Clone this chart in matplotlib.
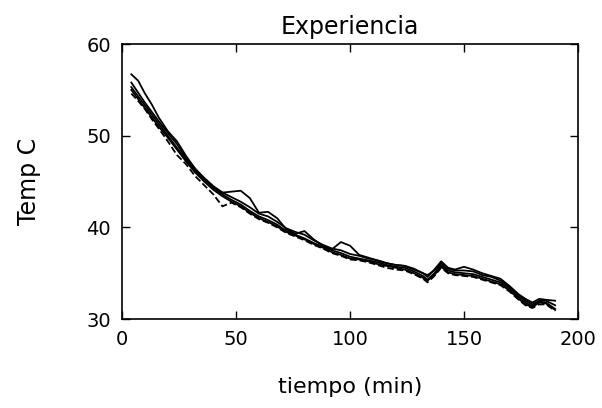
import numpy as np
import matplotlib.pyplot as plt

# tiempo (min) and temperature readings of the overlaid runs
t = [4, 7, 10, 13, 16, 20, 24, 28, 32, 36, 40, 44, 48, 52, 56, 60, 64, 68, 72, 76,
     80, 84, 88, 92, 96, 100, 104, 108, 112, 116, 120, 124, 128, 132, 134, 137, 140,
     143, 146, 150, 154, 158, 162, 166, 170, 174, 177, 180, 183, 186, 190]

run_a = [55.3, 54.3, 53.3, 52.3, 51.3, 50.0, 48.7, 47.4, 46.2, 45.2, 44.3, 43.6, 43.0,
         42.5, 41.8, 41.2, 40.8, 40.3, 39.6, 39.2, 38.8, 38.3, 37.9, 37.5, 37.2, 36.8,
         36.6, 36.4, 36.2, 35.9, 35.7, 35.6, 35.2, 34.7, 34.3, 35.0, 35.9, 35.3, 35.1,
         35.0, 34.9, 34.6, 34.3, 34.0, 33.3, 32.4, 31.8, 31.4, 31.9, 31.8, 31.1]

run_b = [56.7, 56.0, 54.6, 53.4, 52.0, 50.5, 49.4, 47.8, 46.4, 45.3, 44.4, 43.8, 43.9,
         44.0, 43.2, 41.6, 41.7, 41.0, 39.8, 39.3, 39.6, 38.7, 38.0, 37.6, 38.4, 38.0,
         37.0, 36.7, 36.4, 36.1, 35.9, 35.8, 35.4, 35.0, 34.6, 35.4, 36.3, 35.6, 35.4,
         35.7, 35.4, 35.0, 34.7, 34.4, 33.6, 32.7, 32.2, 31.8, 32.2, 32.1, 32.0]

run_c = [54.6, 53.8, 52.9, 51.8, 50.8, 49.4, 47.9, 46.9, 45.6, 44.6, 43.6, 42.3, 42.7,
         42.2, 41.5, 40.9, 40.5, 40.0, 39.4, 39.0, 38.6, 38.1, 37.7, 37.2, 36.9, 36.5,
         36.4, 36.2, 35.9, 35.6, 35.4, 35.3, 34.9, 34.4, 34.0, 34.7, 35.6, 35.0, 34.8,
         34.7, 34.6, 34.3, 34.0, 33.7, 33.0, 32.1, 31.5, 31.2, 31.6, 31.6, 30.9]

run_d = [55.8, 54.7, 53.6, 52.6, 51.6, 50.3, 49.1, 47.6, 46.4, 45.4, 44.5, 43.8, 43.3,
         42.8, 42.2, 41.5, 41.2, 40.6, 39.9, 39.5, 39.2, 38.6, 38.1, 37.7, 37.5, 37.1,
         36.9, 36.6, 36.4, 36.1, 35.9, 35.8, 35.5, 35.0, 34.8, 35.3, 36.1, 35.5, 35.3,
         35.3, 35.2, 34.8, 34.6, 34.2, 33.5, 32.6, 32.0, 31.6, 32.0, 32.0, 31.5]

run_e = [55.0, 54.0, 53.0, 52.0, 51.0, 49.8, 48.5, 47.2, 46.0, 45.0, 44.1, 43.4, 42.8,
         42.3, 41.6, 41.0, 40.6, 40.1, 39.5, 39.1, 38.7, 38.2, 37.8, 37.3, 37.0, 36.6,
         36.5, 36.3, 36.0, 35.8, 35.6, 35.4, 35.0, 34.5, 34.2, 34.8, 35.7, 35.1, 34.9,
         34.8, 34.7, 34.4, 34.1, 33.8, 33.1, 32.2, 31.6, 31.3, 31.8, 31.7, 31.0]

plt.rcParams['font.family'] = 'DejaVu Sans'
fig = plt.figure(figsize=(6.02, 4.08), dpi=100)
ax = fig.add_axes([0.203, 0.218, 0.757, 0.674])

for y, ls in [(run_a, '-'), (run_b, '-'), (run_c, '--'), (run_d, '-'), (run_e, '-')]:
    ax.plot(t, y, color='black', lw=1.3, ls=ls)

ax.set_xlim(0, 200)
ax.set_ylim(30, 60)
ax.set_xticks([0, 50, 100, 150, 200])
ax.set_yticks([30, 40, 50, 60])
ax.tick_params(direction='in', top=True, right=True, length=6, width=1,
               labelsize=14, pad=8)
for s in ax.spines.values():
    s.set_linewidth(1.2)

ax.set_title('Experiencia', fontsize=17, pad=7)
ax.set_xlabel('tiempo (min)', fontsize=16, labelpad=20)
ax.set_ylabel('Temp C', fontsize=17, labelpad=33)

fig.savefig('out.png', dpi=100)
